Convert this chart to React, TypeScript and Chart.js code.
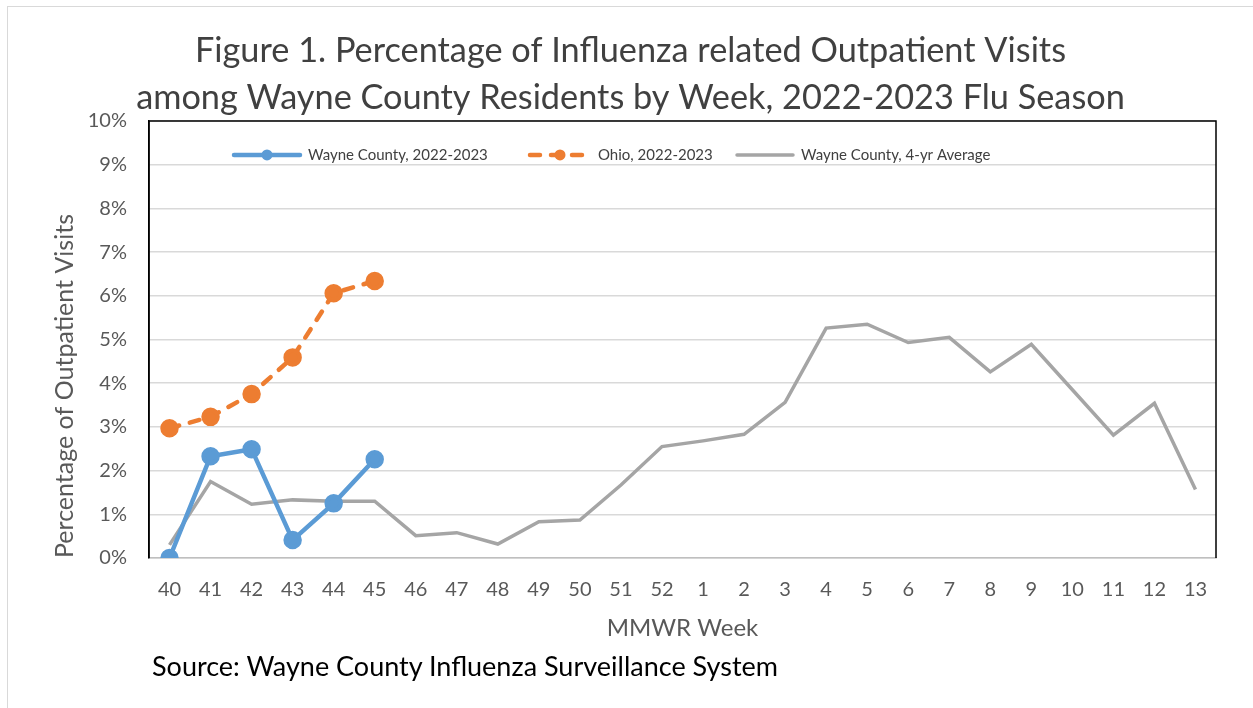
import React, { useEffect, useRef } from "react";
import { Chart, registerables } from "chart.js";

Chart.register(...registerables);

const weeks = ["40","41","42","43","44","45","46","47","48","49","50","51","52","1","2","3","4","5","6","7","8","9","10","11","12","13"];
const wayne2223 = [0.0, 2.33, 2.49, 0.41, 1.25, 2.26];
const ohio2223 = [2.97, 3.23, 3.75, 4.59, 6.06, 6.34];
const wayneAvg = [0.30, 1.75, 1.23, 1.33, 1.30, 1.30, 0.51, 0.58, 0.32, 0.83, 0.87, 1.67, 2.55, 2.68, 2.83, 3.56, 5.26, 5.35, 4.93, 5.05, 4.26, 4.89, 3.85, 2.81, 3.54, 1.57];
const yTicks = [0, 1, 2, 3, 4, 5, 6, 7, 8, 9, 10];

const titleLines = [
  "Figure 1. Percentage of Influenza related Outpatient Visits",
  "among Wayne County Residents by Week, 2022-2023 Flu Season",
];
const seriesNames = ["Wayne County, 2022-2023", "Ohio, 2022-2023", "Wayne County, 4-yr Average"];
const FONT = "Lato, 'Open Sans', sans-serif";
const legendSlots = [83, 379, 586];
const legendLineLens = [70, 64, 60];

const frameAndLegend = {
  id: "frameAndLegend",
  afterDatasetsDraw(chart: any) {
    const { ctx, chartArea } = chart;
    const { left, right, top, bottom } = chartArea;
    ctx.save();
    ctx.strokeStyle = "#000000";
    ctx.lineWidth = 1.5;
    ctx.beginPath();
    ctx.moveTo(left, bottom);
    ctx.lineTo(left, top);
    ctx.lineTo(right, top);
    ctx.lineTo(right, bottom);
    ctx.stroke();

    // legend inside plot area
    const ly = top + 34;
    ctx.font = `15px ${FONT}`;
    ctx.textBaseline = "middle";
    ctx.textAlign = "left";
    chart.data.datasets.forEach((ds: any, i: number) => {
      const x = left + legendSlots[i];
      const lineLen = legendLineLens[i];
      ctx.save();
      ctx.strokeStyle = ds.borderColor;
      ctx.lineWidth = ds.borderWidth;
      ctx.lineCap = "round";
      ctx.setLineDash(ds.borderDash || []);
      ctx.beginPath();
      ctx.moveTo(x + 2, ly);
      ctx.lineTo(x + lineLen - 2, ly);
      ctx.stroke();
      ctx.restore();
      if (ds.pointRadius > 0) {
        ctx.fillStyle = ds.pointBackgroundColor;
        ctx.beginPath();
        ctx.arc(x + lineLen / 2, ly, 5.5, 0, Math.PI * 2);
        ctx.fill();
      }
      ctx.fillStyle = "#404040";
      ctx.fillText(ds.label, x + lineLen + 6, ly);
    });
    ctx.restore();
  },
};

export default function App() {
  const ref = useRef<HTMLCanvasElement>(null);
  useEffect(() => {
    if (!ref.current) return;
    const chart = new Chart(ref.current, {
      type: "line",
      data: {
        labels: weeks,
        datasets: [
          {
            label: seriesNames[0],
            data: wayne2223,
            borderColor: "#5B9BD5",
            backgroundColor: "#5B9BD5",
            pointBackgroundColor: "#5B9BD5",
            pointBorderColor: "#5B9BD5",
            borderWidth: 4.5,
            pointRadius: 7,
            pointHoverRadius: 7,
            tension: 0,
            order: 1,
          },
          {
            label: seriesNames[1],
            data: ohio2223,
            borderColor: "#ED7D31",
            backgroundColor: "#ED7D31",
            pointBackgroundColor: "#ED7D31",
            pointBorderColor: "#ED7D31",
            borderWidth: 4.5,
            borderDash: [10, 11],
            borderCapStyle: "round",
            pointRadius: 7,
            pointHoverRadius: 7,
            tension: 0,
            order: 2,
          },
          {
            label: seriesNames[2],
            data: wayneAvg,
            borderColor: "#A5A5A5",
            backgroundColor: "#A5A5A5",
            pointBackgroundColor: "#A5A5A5",
            borderWidth: 3.5,
            pointRadius: 0,
            pointHoverRadius: 0,
            tension: 0,
            order: 3,
          },
        ],
      } as any,
      options: {
        responsive: false,
        animation: false,
        devicePixelRatio: 1,
        layout: { padding: { left: 0, right: 0, top: 0, bottom: 0 } },
        plugins: {
          legend: { display: false },
          tooltip: { enabled: false },
          title: {
            display: true,
            text: titleLines,
            color: "#404040",
            font: { family: FONT, size: 34.3, weight: "normal", lineHeight: 1.37 },
            padding: { top: 20, bottom: 0 },
          },
        },
        scales: {
          x: {
            type: "category",
            offset: true,
            grid: { display: false, drawTicks: false },
            border: { display: true, color: "#BFBFBF", width: 1.5 },
            ticks: {
              color: "#595959",
              font: { family: FONT, size: 20 },
              padding: 20,
              maxRotation: 0,
              autoSkip: false,
            },
            title: {
              display: true,
              text: "MMWR Week",
              color: "#595959",
              font: { family: FONT, size: 24 },
              padding: { top: 0, bottom: 65.6 },
            },
            afterFit(scale: any) {
              scale.height = 150;
            },
          },
          y: {
            min: 0,
            max: 10,
            afterBuildTicks(scale: any) {
              scale.ticks = yTicks.map((v) => ({ value: v }));
            },
            grid: { color: "#D9D9D9", lineWidth: 1.5, drawTicks: false },
            border: { display: true, color: "#000000", width: 1.5 },
            ticks: {
              color: "#595959",
              font: { family: FONT, size: 20 },
              padding: 22,
              callback: (v: any) => `${v}%`,
            },
            title: {
              display: true,
              text: "Percentage of Outpatient Visits",
              align: "start",
              color: "#595959",
              font: { family: FONT, size: 25 },
              padding: { top: 42, bottom: 0 },
            },
            afterFit(scale: any) {
              scale.width = 141;
            },
          },
          yRight: {
            position: "right",
            display: true,
            min: 0,
            max: 10,
            grid: { display: false, drawTicks: false },
            border: { display: false },
            ticks: { display: false },
            afterFit(scale: any) {
              scale.width = 37;
            },
          },
        },
      } as any,
      plugins: [frameAndLegend],
    });
    return () => chart.destroy();
  }, []);

  return (
    <div
      style={{
        position: "absolute",
        left: 7,
        top: 6,
        width: 1246,
        height: 702,
        boxSizing: "border-box",
        borderLeft: "1px solid #D9D9D9",
        borderTop: "1px solid #D9D9D9",
        overflow: "hidden",
        background: "#fff",
      }}
    >
      <canvas ref={ref} width={1245} height={701} style={{ display: "block", width: 1245, height: 701 }} />
      <div
        style={{
          position: "absolute",
          left: 144,
          top: 641,
          fontFamily: FONT,
          fontSize: 27,
          color: "#000",
          whiteSpace: "nowrap",
          lineHeight: "36px",
        }}
      >
        Source: Wayne County Influenza Surveillance System
      </div>
    </div>
  );
}
